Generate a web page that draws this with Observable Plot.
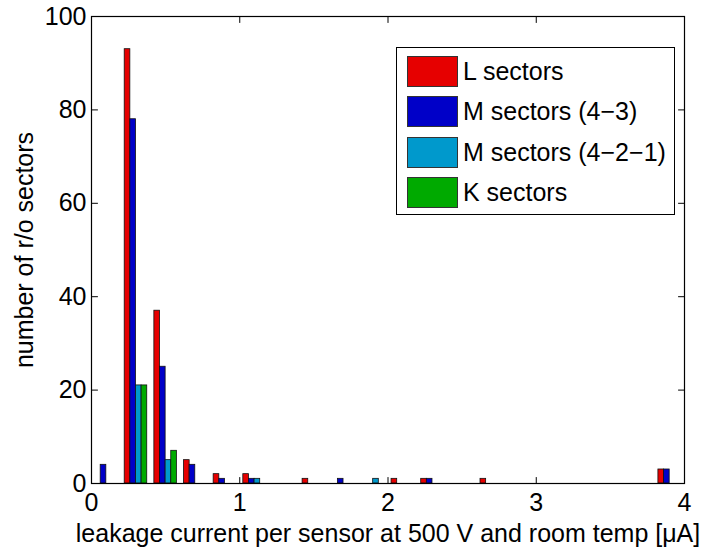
<!DOCTYPE html>
<html><head><meta charset="utf-8">
<script src="https://cdn.jsdelivr.net/npm/d3@7"></script>
<script src="https://cdn.jsdelivr.net/npm/@observablehq/plot@0.6"></script>
<style>
body{margin:0;background:#fff;}
#wrap{position:relative;width:714px;height:547px;font-family:"Liberation Sans",Arial,sans-serif;}
#legend{position:absolute;left:396px;top:47px;width:279px;height:168px;border:1px solid #000;background:#fff;box-sizing:border-box;}
.row{position:absolute;left:10px;height:31px;display:flex;align-items:center;font-size:25px;color:#000;white-space:nowrap;}
.sw{width:51px;height:31px;border:1px solid #333;box-sizing:border-box;margin-right:5px;}
</style></head><body><div id="wrap"></div>
<script>
const binCenters = [0.1,0.3,0.5,0.7,0.9,1.1,1.3,1.5,1.7,1.9,2.1,2.3,2.5,2.7,2.9,3.1,3.3,3.5,3.7,3.9];
const seriesNames = ["L sectors","M sectors (4\u22123)","M sectors (4\u22122\u22121)","K sectors"];
const seriesColors = ["#e60000","#0000c8","#0099cc","#00aa00"];
const L    = [0,93,37,5,2,2,0,1,0,0,1,1,0,1,0,0,0,0,0,3];
const M43  = [4,78,25,4,1,1,0,0,1,0,0,1,0,0,0,0,0,0,0,3];
const M421 = [0,21,5,0,0,1,0,0,0,1,0,0,0,0,0,0,0,0,0,0];
const K    = [0,21,7,0,0,0,0,0,0,0,0,0,0,0,0,0,0,0,0,0];
const xTicks = [0,1,2,3,4];
const yTicks = [0,20,40,60,80,100];
const xLabel = "leakage current per sensor at 500 V and room temp [\u03bcA]";
const yLabel = "number of r/o sectors";

const barWidth = 0.038;
const counts = [L, M43, M421, K];
const bars = [];
counts.forEach((arr, s) => arr.forEach((v, i) => {
  if (v > 0) bars.push({series: seriesNames[s], s, center: binCenters[i], count: v});
}));

const tickShape = {draw(ctx, l) { ctx.moveTo(0, 0); ctx.lineTo(0, -l); }};
const tickOpts = {length: 6, shape: tickShape, anchor: "start", stroke: "#000", strokeWidth: 1};

const chart = Plot.plot({
  width: 714, height: 547,
  marginLeft: 91, marginRight: 30, marginTop: 16, marginBottom: 64,
  style: {fontFamily: "Liberation Sans, Arial, sans-serif", fontSize: "25px", color: "#000", background: "#fff"},
  x: {domain: [0, 4]},
  y: {domain: [0, 100]},
  color: {domain: seriesNames, range: seriesColors},
  marks: [
    Plot.rect(bars, {
      x1: d => d.center + (d.s - 2) * barWidth,
      x2: d => d.center + (d.s - 1) * barWidth,
      y1: () => 0, y2: "count",
      fill: "series", stroke: "#111", strokeWidth: 0.8
    }),
    Plot.frame({stroke: "#000", strokeWidth: 1.2}),
    Plot.vector(xTicks, {x: d => d, y: () => 0, rotate: 0, ...tickOpts}),
    Plot.vector(xTicks, {x: d => d, y: () => 100, rotate: 180, ...tickOpts}),
    Plot.vector(yTicks, {y: d => d, x: () => 0, rotate: 90, ...tickOpts}),
    Plot.vector(yTicks, {y: d => d, x: () => 4, rotate: -90, ...tickOpts}),
    Plot.axisX({ticks: xTicks, tickSize: 0, tickPadding: 10, tickFormat: d3.format("d"),
      label: xLabel, labelAnchor: "center", labelOffset: 58, labelArrow: "none"}),
    Plot.axisY({ticks: yTicks, tickSize: 0, tickPadding: 5, tickFormat: d3.format("d"),
      label: yLabel, labelAnchor: "center", labelOffset: 76, labelArrow: "none"})
  ]
});
const wrap = document.getElementById("wrap");
wrap.appendChild(chart);

const legend = document.createElement("div");
legend.id = "legend";
seriesNames.forEach((name, i) => {
  const row = document.createElement("div");
  row.className = "row";
  row.style.top = (7.5 + i * 40.6) + "px";
  const sw = document.createElement("div");
  sw.className = "sw";
  sw.style.background = seriesColors[i];
  const t = document.createElement("span");
  t.textContent = name;
  row.appendChild(sw); row.appendChild(t);
  legend.appendChild(row);
});
wrap.appendChild(legend);
</script></body></html>
